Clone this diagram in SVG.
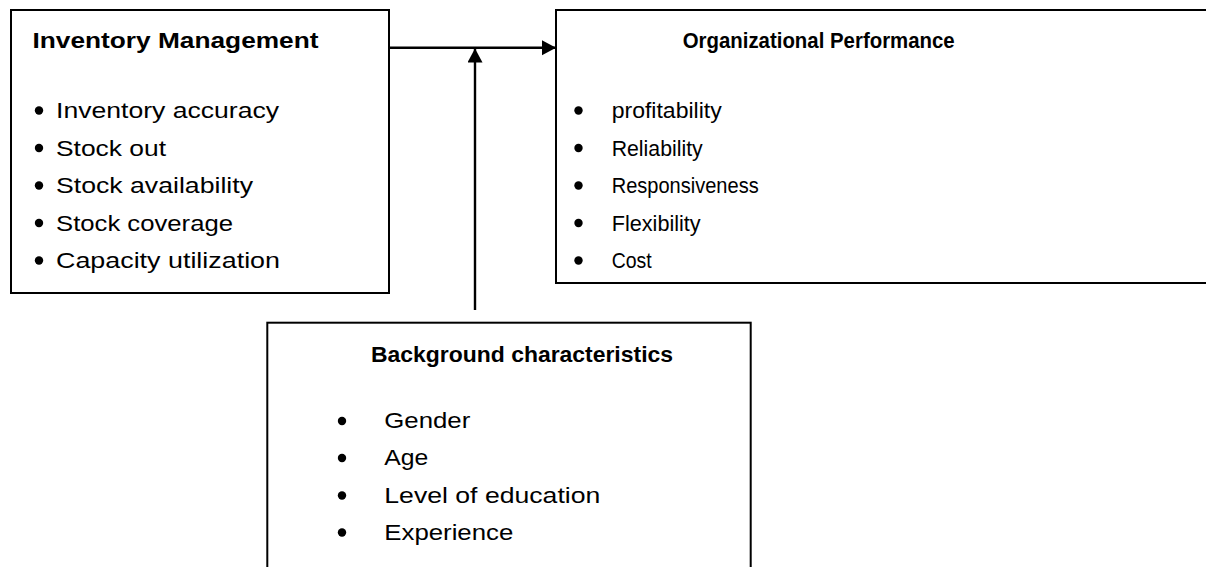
<svg xmlns="http://www.w3.org/2000/svg" width="1206" height="567" viewBox="0 0 1206 567">
<style>
.box{fill:#fff;stroke:#000;stroke-width:2}
.t{font-family:"Liberation Sans",Arial,sans-serif;font-size:22px;fill:#000}
.b{font-weight:bold}
.dot{fill:#000}
.con{stroke:#000;stroke-width:2.4;fill:none}
</style>
<defs>
<marker id="ah" markerUnits="userSpaceOnUse" markerWidth="15" markerHeight="16" refX="14" refY="7.5" orient="auto">
<path d="M0,0 L14,7.5 L0,15 z" fill="#000"/>
</marker>
</defs>
<rect width="1206" height="567" fill="#fff"/>
<g id="connectors">
<line class="con" x1="389" y1="47.7" x2="556" y2="47.7" marker-end="url(#ah)"/>
<line class="con" x1="475" y1="310" x2="475" y2="48.5" marker-end="url(#ah)"/>
</g>
<g id="inventory-management">
<rect class="box" x="11" y="10" width="378" height="283"/>
<text class="t b" x="32.5" y="48.3" textLength="286" lengthAdjust="spacingAndGlyphs">Inventory Management</text>
<circle class="dot" cx="39" cy="110.5" r="4.2"/>
<circle class="dot" cx="39" cy="148" r="4.2"/>
<circle class="dot" cx="39" cy="185.5" r="4.2"/>
<circle class="dot" cx="39" cy="223" r="4.2"/>
<circle class="dot" cx="39" cy="260.5" r="4.2"/>
<text class="t" x="56" y="118.3" textLength="223" lengthAdjust="spacingAndGlyphs">Inventory accuracy</text>
<text class="t" x="56" y="156" textLength="110" lengthAdjust="spacingAndGlyphs">Stock out</text>
<text class="t" x="56" y="193.3" textLength="197" lengthAdjust="spacingAndGlyphs">Stock availability</text>
<text class="t" x="56" y="230.5" textLength="177" lengthAdjust="spacingAndGlyphs">Stock coverage</text>
<text class="t" x="56" y="268.3" textLength="224" lengthAdjust="spacingAndGlyphs">Capacity utilization</text>
</g>
<g id="organizational-performance">
<rect class="box" x="556" y="10" width="660" height="273"/>
<text class="t b" x="682.7" y="48.3" textLength="272" lengthAdjust="spacingAndGlyphs">Organizational Performance</text>
<circle class="dot" cx="578.5" cy="110.5" r="4.2"/>
<circle class="dot" cx="578.5" cy="148" r="4.2"/>
<circle class="dot" cx="578.5" cy="185.5" r="4.2"/>
<circle class="dot" cx="578.5" cy="223" r="4.2"/>
<circle class="dot" cx="578.5" cy="260.5" r="4.2"/>
<text class="t" x="611.7" y="118.3" textLength="110" lengthAdjust="spacingAndGlyphs">profitability</text>
<text class="t" x="611.7" y="156" textLength="91" lengthAdjust="spacingAndGlyphs">Reliability</text>
<text class="t" x="611.7" y="193.3" textLength="147" lengthAdjust="spacingAndGlyphs">Responsiveness</text>
<text class="t" x="611.7" y="230.7" textLength="89" lengthAdjust="spacingAndGlyphs">Flexibility</text>
<text class="t" x="611.7" y="267.7" textLength="40" lengthAdjust="spacingAndGlyphs">Cost</text>
</g>
<g id="background-characteristics">
<rect class="box" x="267.3" y="322.7" width="483.4" height="260"/>
<text class="t b" x="371" y="361.7" textLength="302" lengthAdjust="spacingAndGlyphs">Background characteristics</text>
<circle class="dot" cx="342" cy="421" r="4.2"/>
<circle class="dot" cx="342" cy="458" r="4.2"/>
<circle class="dot" cx="342" cy="495.5" r="4.2"/>
<circle class="dot" cx="342" cy="532.5" r="4.2"/>
<text class="t" x="384.3" y="428.3" textLength="86" lengthAdjust="spacingAndGlyphs">Gender</text>
<text class="t" x="384.3" y="465" textLength="44" lengthAdjust="spacingAndGlyphs">Age</text>
<text class="t" x="384.3" y="502.7" textLength="216" lengthAdjust="spacingAndGlyphs">Level of education</text>
<text class="t" x="384.3" y="540" textLength="129" lengthAdjust="spacingAndGlyphs">Experience</text>
</g>
</svg>
